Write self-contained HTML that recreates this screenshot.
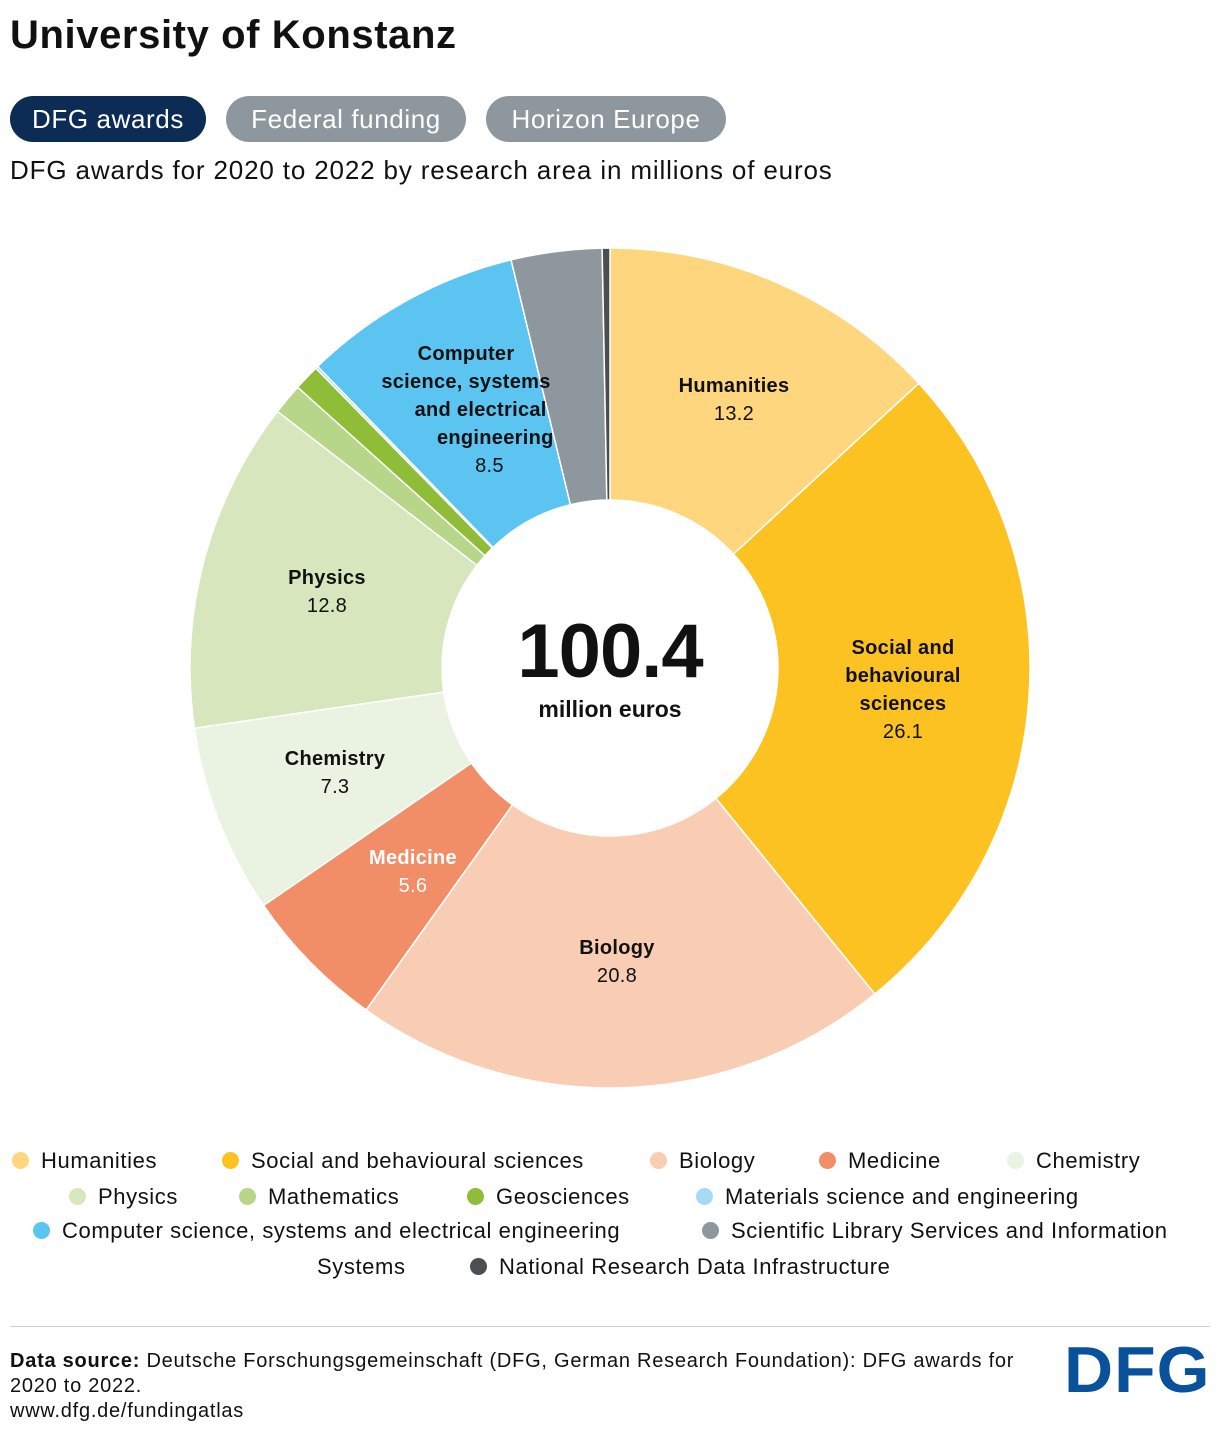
<!DOCTYPE html>
<html><head><meta charset="utf-8"><style>
body{margin:0;width:1220px;height:1436px;background:#fff;font-family:"Liberation Sans",sans-serif;color:#111;position:relative;overflow:hidden}
.a{position:absolute;white-space:nowrap}
.pill{position:absolute;top:96px;height:46px;border-radius:23px;color:#fff;font-size:26px;letter-spacing:0.6px;line-height:46px;text-align:center}
.lbl{position:absolute;text-align:center;font-size:20px;line-height:28px;transform:translateX(-50%);white-space:nowrap;letter-spacing:0.3px}
.lbl b{font-weight:bold}
.lg{position:absolute;font-size:22px;letter-spacing:0.6px;white-space:nowrap}
.lg i{display:inline-block;width:17px;height:17px;border-radius:50%;margin-right:12px;vertical-align:-1px}
</style></head><body>
<div class="a" style="left:10px;top:13px;font-size:40px;font-weight:bold;letter-spacing:0.6px">University of Konstanz</div>
<div class="pill" style="left:10px;width:196px;background:#0c2c56">DFG awards</div>
<div class="pill" style="left:226px;width:240px;background:#8e979d">Federal funding</div>
<div class="pill" style="left:486px;width:240px;background:#8e979d">Horizon Europe</div>
<div class="a" style="left:10px;top:155px;font-size:26px;letter-spacing:0.85px">DFG awards for 2020 to 2022 by research area in millions of euros</div>
<svg id="s" width="1220" height="1436" style="position:absolute;left:0;top:0"></svg>
<div class="lbl" style="left:734px;top:372px"><b>Humanities</b><br>13.2</div>
<div class="lbl" style="left:903px;top:634px"><b>Social and<br>behavioural<br>sciences</b><br>26.1</div>
<div class="lbl" style="left:617px;top:934px"><b>Biology</b><br>20.8</div>
<div class="lbl" style="left:413px;top:844px;color:#fff"><b>Medicine</b><br>5.6</div>
<div class="lbl" style="left:335px;top:745px"><b>Chemistry</b><br>7.3</div>
<div class="lbl" style="left:327px;top:564px"><b>Physics</b><br>12.8</div>
<div class="lbl" style="left:466px;top:340px;line-height:28px"><b>Computer<br>science, systems<br>&nbsp;&nbsp;&nbsp;&nbsp;&nbsp;and electrical<br>&nbsp;&nbsp;&nbsp;&nbsp;&nbsp;&nbsp;&nbsp;&nbsp;&nbsp;&nbsp;engineering</b><br>&nbsp;&nbsp;&nbsp;&nbsp;&nbsp;&nbsp;&nbsp;&nbsp;8.5</div>
<div class="a" style="left:610px;top:608px;transform:translateX(-50%);font-size:76px;font-weight:bold;letter-spacing:-1px">100.4</div>
<div class="a" style="left:610px;top:696px;transform:translateX(-50%);font-size:23px;font-weight:bold">million euros</div>
<div class="lg" style="left:12px;top:1148px"><i style="background:#fed67e"></i>Humanities</div>
<div class="lg" style="left:222px;top:1148px"><i style="background:#fcc221"></i>Social and behavioural sciences</div>
<div class="lg" style="left:650px;top:1148px"><i style="background:#f9cdb3"></i>Biology</div>
<div class="lg" style="left:819px;top:1148px"><i style="background:#f28e67"></i>Medicine</div>
<div class="lg" style="left:1007px;top:1148px"><i style="background:#eaf3e2"></i>Chemistry</div>
<div class="lg" style="left:69px;top:1184px"><i style="background:#d8e6bd"></i>Physics</div>
<div class="lg" style="left:239px;top:1184px"><i style="background:#b7d68a"></i>Mathematics</div>
<div class="lg" style="left:467px;top:1184px"><i style="background:#8fbd38"></i>Geosciences</div>
<div class="lg" style="left:696px;top:1184px"><i style="background:#a7dbf5"></i>Materials science and engineering</div>
<div class="lg" style="left:33px;top:1218px"><i style="background:#5bc4f1"></i>Computer science, systems and electrical engineering</div>
<div class="lg" style="left:702px;top:1218px"><i style="background:#8e979d"></i>Scientific Library Services and Information</div>
<div class="lg" style="left:317px;top:1254px">Systems</div>
<div class="lg" style="left:470px;top:1254px"><i style="background:#4a4f54"></i>National Research Data Infrastructure</div>
<div class="a" style="left:10px;top:1326px;width:1200px;height:1px;background:#ccc"></div>
<div class="a" style="left:10px;top:1349px;font-size:20px;letter-spacing:0.75px;line-height:25px;white-space:normal;width:1040px"><b>Data source:</b> Deutsche Forschungsgemeinschaft (DFG, German Research Foundation): DFG awards for<br>2020 to 2022.<br>www.dfg.de/fundingatlas</div>
<div class="a" style="left:1064px;top:1331px;font-size:68px;font-weight:bold;color:#0a519c;letter-spacing:1px;transform:scaleY(0.95)">DFG</div>
<script>
var d=[[13.2,"#fed67e"],[26.1,"#fcc221"],[20.8,"#f9cdb3"],[5.6,"#f28e67"],[7.3,"#eaf3e2"],[12.8,"#d8e6bd"],[1.2,"#b7d68a"],[1.0,"#8fbd38"],[0.1,"#a7dbf5"],[8.5,"#5bc4f1"],[3.5,"#8e979d"],[0.3,"#4a4f54"]];
var T=0;d.forEach(function(x){T+=x[0]});
var cx=610,cy=668,R=420,r=168,a=0,h="";
function p(rad,ang){return [cx+rad*Math.sin(ang),cy-rad*Math.cos(ang)]}
d.forEach(function(x){var b=a+x[0]/T*2*Math.PI,l=(b-a)>Math.PI?1:0;
var p1=p(R,a),p2=p(R,b),p3=p(r,b),p4=p(r,a);
h+='<path d="M'+p1+'A'+R+','+R+' 0 '+l+' 1 '+p2+'L'+p3+'A'+r+','+r+' 0 '+l+' 0 '+p4+'Z" fill="'+x[1]+'" stroke="#fff" stroke-width="1.5"/>';a=b;});
document.getElementById("s").innerHTML=h;
</script>
</body></html>
